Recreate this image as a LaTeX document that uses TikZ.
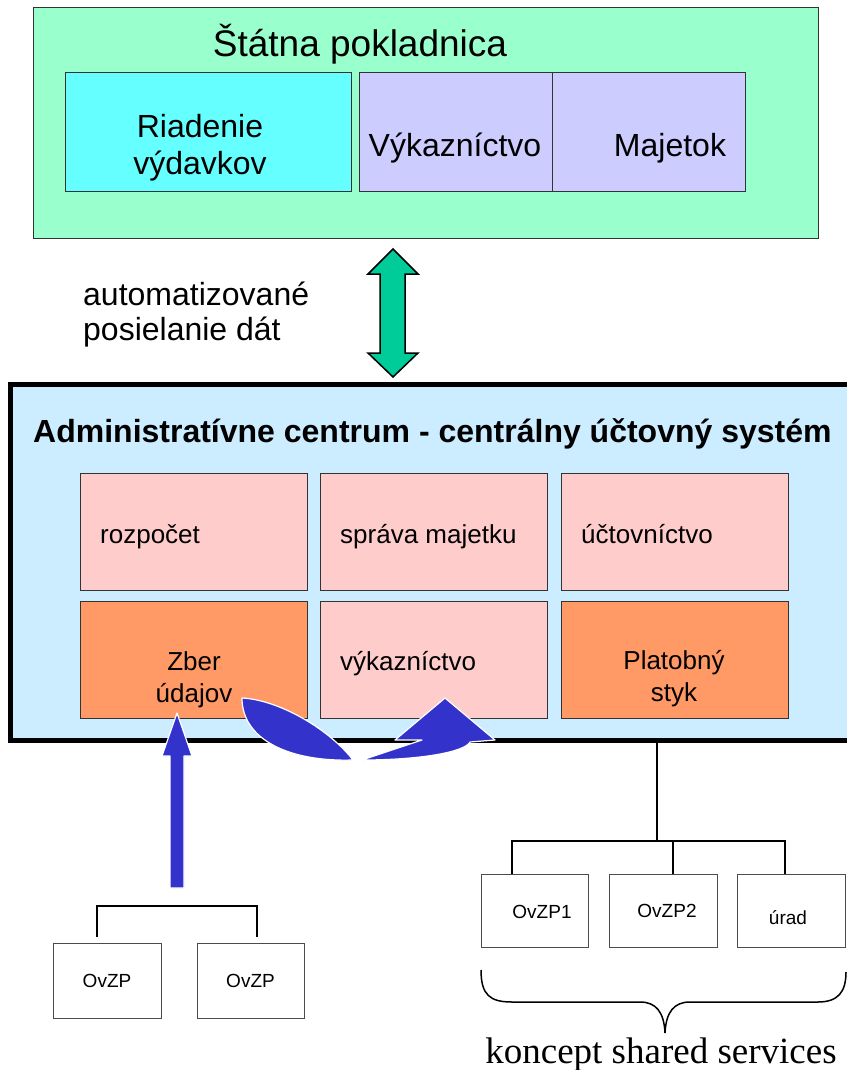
\documentclass[tikz,border=0pt]{standalone}
\usepackage{fontspec}
\setmainfont{Liberation Sans}
\newfontfamily\serifrm{Liberation Serif}
\usetikzlibrary{calc}
\definecolor{spgreen}{HTML}{99FFCC}
\definecolor{cyanbox}{HTML}{66FFFF}
\definecolor{lavbox}{HTML}{CCCCFF}
\definecolor{adminbg}{HTML}{CCECFF}
\definecolor{pinkbox}{HTML}{FFCCCC}
\definecolor{orangebox}{HTML}{FF9966}
\definecolor{tealarrow}{HTML}{00CC99}
\definecolor{bluearrow}{HTML}{3333CC}
\tikzset{
  pane/.style={draw=black!80, line width=1pt, inner sep=0pt, outer sep=0pt, anchor=north west},
  leaf/.style={draw=black!70, line width=1pt, fill=white, inner sep=0pt, outer sep=0pt, anchor=north west},
  bigtxt/.style={font=\fontsize{32}{37}\selectfont, align=center, inner sep=0pt},
  midtxt/.style={font=\fontsize{26}{32}\selectfont, align=center, inner sep=0pt},
  smalltxt/.style={font=\fontsize{19}{22}\selectfont, inner sep=0pt},
  tree/.style={line width=2pt, draw=black},
  blueblock/.style={fill=bluearrow, draw=white, line width=1.2pt, line join=round},
}
\begin{document}
\begin{tikzpicture}[x=1pt,y=-1pt]
\useasboundingbox (0,0) rectangle (846,1070);

% Statna pokladnica
\node[pane, fill=spgreen, minimum width=785, minimum height=230] (sp) at (33,8) {};
\node[font=\fontsize{37}{42}\selectfont, inner sep=0pt] (spt) at (360,44) {Štátna pokladnica};
\node[pane, fill=cyanbox, minimum width=286, minimum height=118] (rv) at (65,73) {};
\node[bigtxt] (rvt) at (200,148) {Riadenie\\výdavkov};
\node[pane, fill=lavbox, minimum width=193, minimum height=118] (vk) at (359,73) {};
\node[pane, fill=lavbox, minimum width=193, minimum height=118] (mj) at (552,73) {};
\node[bigtxt, anchor=base] (vkt) at (455,156) {Výkazníctvo};
\node[bigtxt, anchor=base] (mjt) at (670,156) {Majetok};

% label
\node[font=\fontsize{32}{35}\selectfont, align=left, anchor=north west, inner sep=0pt] (auto) at (83,282) {automatizované\\posielanie dát};

% Admin centrum
\node[draw=black, line width=5pt, fill=adminbg, minimum width=890, minimum height=356, anchor=north west, inner sep=0pt, outer sep=0pt] (ac) at (10,384) {};
\node[font=\bfseries\fontsize{32}{35}\selectfont, anchor=base west, inner sep=0pt] (act) at (33,442) {Administratívne centrum - centrálny účtovný systém};

\node[pane, fill=pinkbox, minimum width=227, minimum height=117] (roz) at (80,473) {};
\node[pane, fill=pinkbox, minimum width=227, minimum height=117] (spr) at (320,473) {};
\node[pane, fill=pinkbox, minimum width=227, minimum height=117] (uct) at (561,473) {};
\node[pane, fill=orangebox, minimum width=227, minimum height=117] (zber) at (80,601) {};
\node[pane, fill=pinkbox, minimum width=227, minimum height=117] (vyk) at (320,601) {};
\node[pane, fill=orangebox, minimum width=227, minimum height=117] (plat) at (561,601) {};

\node[midtxt, anchor=base west] (rozt) at (100,543) {rozpočet};
\node[midtxt, anchor=base west] (sprt) at (340,543) {správa majetku};
\node[midtxt, anchor=base west] (uctt) at (581,543) {účtovníctvo};
\node[midtxt] (zbert) at (194,680) {Zber\\údajov};
\node[midtxt, anchor=base west] (vykt) at (340,670) {výkazníctvo};
\node[midtxt] (platt) at (674,679) {Platobný\\styk};

% double arrow between the two systems
\coordinate (dtop) at (393,249);
\coordinate (dbot) at (393,377);
\fill[tealarrow, draw=black, line width=1.5pt, line join=miter]
  (dtop) -- ++(25,25) -- ++(-13,0) -- ++(0,79) -- ++(13,0) -- (dbot)
  -- ++(-25,-24) -- ++(12,0) -- ++(0,-79) -- ++(-12,0) -- cycle;

% curved arrow Zber -> vykaznictvo
\coordinate (ca) at (242,698);
\coordinate (cb) at (353,760);
\coordinate (cc) at (362,760);
\coordinate (ctip) at (445,698);
\path[blueblock] (ca) .. controls (280,700) and (330,730) .. (cb)
  .. controls (290,762) and (242,740) .. (ca) -- cycle;
\path[blueblock] (cc) -- (422,740) -- (395,740) -- (ctip) -- (495,740) -- (470,742)
  .. controls (465,752) and (420,760) .. (cc) -- cycle;

% bottom-left tree
\node[leaf, minimum width=108, minimum height=75] (o1) at (53,943) {};
\node[leaf, minimum width=107, minimum height=75] (o2) at (197,943) {};
\node[smalltxt] at (o1.center) {OvZP};
\node[smalltxt] at (o2.center) {OvZP};
\draw[tree] ($(o1.north)+(-10,-6)$) |- ($(o2.north)+(6.5,-37)$) -- ($(o2.north)+(6.5,-6)$);

% up arrow to Zber udajov
\coordinate (utip) at (177,713);
\fill[blueblock] (utip) -- ++(15,43) -- ++(-8,0) -- ++(0,132) -- ++(-14,0) -- ++(0,-132) -- ++(-8,0) -- cycle;

% bottom-right tree
\node[leaf, minimum width=107, minimum height=73] (s1) at (481,874) {};
\node[leaf, minimum width=108, minimum height=73] (s2) at (609,874) {};
\node[leaf, minimum width=108, minimum height=73] (s3) at (737,874) {};
\node[smalltxt] at (542,912) {OvZP1};
\node[smalltxt] at (667,911) {OvZP2};
\node[smalltxt] at (788,918) {úrad};
\coordinate (hub) at (657,841);
\draw[tree] (ac.south -| hub) -- (hub);
\draw[tree] ($(s1.north)+(-22.5,0)$) |- ($(s3.north)+(-6,-33)$) -- ($(s3.north)+(-6,0)$);
\draw[tree] ($(s2.north)+(10,0)$) -- ($(s2.north)+(10,-33)$);

% brace
\coordinate (bl) at (481,970);
\coordinate (bt) at (665,1033);
\coordinate (br) at (846,972);
\draw[line width=1.5pt] (bl) .. controls (481,995) and (490,1002) .. (512,1002) -- (640,1002)
  .. controls (656,1002) and (664,1012) .. (bt)
  .. controls (666,1012) and (674,1002) .. (690,1002) -- (818,1002)
  .. controls (838,1002) and (846,992) .. (br);
\node[font=\serifrm\fontsize{37}{40}\selectfont, anchor=base, inner sep=0pt] (ks) at (661,1063) {koncept shared services};
\end{tikzpicture}
\end{document}
